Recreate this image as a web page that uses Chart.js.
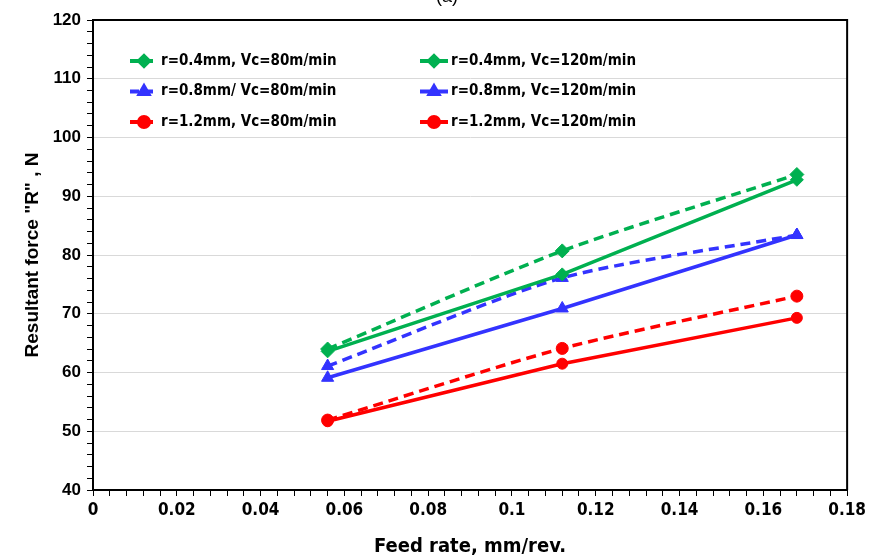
<!DOCTYPE html>
<html>
<head>
<meta charset="utf-8">
<script src="https://cdn.jsdelivr.net/npm/chart.js@4.4.1/dist/chart.umd.min.js"></script>
<style>
  html, body { margin: 0; padding: 0; background: #fff; }
  #chart { display: block; }
</style>
</head>
<body>
<canvas id="chart" width="870" height="558"></canvas>
<script>
// Feed rates (mm/rev) and resultant force R (N) for each nose radius / cutting speed
const feedRates = [0.056, 0.112, 0.168];
const seriesLabels = [
    'r=0.4mm, Vc=80m/min', 'r=0.4mm, Vc=120m/min',
    'r=0.8mm/ Vc=80m/min', 'r=0.8mm, Vc=120m/min',
    'r=1.2mm, Vc=80m/min', 'r=1.2mm, Vc=120m/min'
];
const r04v80 = [64.0, 80.7, 93.7];
const r04v120 = [63.6, 76.7, 92.8];
const r08v80 = [61.1, 76.1, 83.4];
const r08v120 = [59.1, 70.9, 83.4];
const r12v80 = [51.9, 64.1, 73.0];
const r12v120 = [51.7, 61.5, 69.3];

const GREEN = '#00b050';
const BLUE = '#3333ff';
const RED = '#ff0000';
const NARROW = '"Liberation Sans Narrow", "DejaVu Sans Condensed", "Roboto", sans-serif';
const ARIAL = '"Liberation Sans", Arial, sans-serif';

function toPoints(values) {
    return feedRates.map((x, i) => ({ x: x, y: values[i] }));
}

function makeSeries(label, values, color, style, dashed, radius) {
    return {
        label: label,
        data: toPoints(values),
        borderColor: color,
        backgroundColor: color,
        borderWidth: 3.5,
        borderDash: dashed ? [10, 6] : [],
        pointStyle: style,
        pointRadius: radius,
        pointBorderWidth: 1,
        pointBackgroundColor: color,
        pointBorderColor: color,
        tension: dashed ? 0.25 : 0,
        fill: false
    };
}

// Legend laid out as a 2-column grid inside the plot area
const gridLegend = {
    id: 'gridLegend',
    afterDraw(chart) {
        const ctx = chart.ctx;
        chart.data.datasets.forEach((ds, i) => {
            const col = i % 2;
            const row = Math.floor(i / 2);
            const x0 = col === 0 ? 130 : 420;
            const y = 61 + row * 30.5;
            ctx.save();
            ctx.strokeStyle = ds.borderColor;
            ctx.fillStyle = ds.borderColor;
            ctx.lineWidth = 4;
            ctx.setLineDash(ds.borderDash.length ? [9, 5] : []);
            ctx.beginPath();
            ctx.moveTo(x0, y);
            ctx.lineTo(x0 + 28, y);
            ctx.stroke();
            ctx.setLineDash([]);
            Chart.helpers.drawPoint(ctx, { pointStyle: ds.pointStyle, radius: 5, rotation: 0, borderWidth: 1 }, x0 + 14, y);
            ctx.fillStyle = '#000';
            ctx.font = 'bold 15px ' + NARROW;
            ctx.textBaseline = 'middle';
            ctx.textAlign = 'left';
            ctx.fillText(ds.label, x0 + 31, y);
            ctx.restore();
        });
    }
};

// Box around the plot area plus the panel tag at the top
const frame = {
    id: 'frame',
    afterDraw(chart) {
        const a = chart.chartArea;
        const ctx = chart.ctx;
        ctx.save();
        ctx.strokeStyle = '#000';
        ctx.lineWidth = 2;
        ctx.beginPath();
        ctx.moveTo(a.left, a.top);
        ctx.lineTo(a.right, a.top);
        ctx.lineTo(a.right, a.bottom);
        ctx.stroke();
        ctx.fillStyle = '#000';
        ctx.font = '18px ' + ARIAL;
        ctx.textAlign = 'center';
        ctx.textBaseline = 'alphabetic';
        ctx.fillText('(a)', 447, 2);
        ctx.restore();
    }
};

new Chart(document.getElementById('chart'), {
    type: 'line',
    data: {
        datasets: [
            makeSeries(seriesLabels[0], r04v80, GREEN, 'rectRot', true, 7),
            makeSeries(seriesLabels[1], r04v120, GREEN, 'rectRot', false, 6.5),
            makeSeries(seriesLabels[2], r08v80, BLUE, 'triangle', true, 7),
            makeSeries(seriesLabels[3], r08v120, BLUE, 'triangle', false, 7),
            makeSeries(seriesLabels[4], r12v80, RED, 'circle', true, 6),
            makeSeries(seriesLabels[5], r12v120, RED, 'circle', false, 5.5)
        ]
    },
    options: {
        responsive: false,
        animation: false,
        layout: { padding: { top: 20, right: 22, left: 0, bottom: 0 } },
        plugins: {
            legend: { display: false },
            tooltip: { enabled: false }
        },
        scales: {
            x: {
                type: 'linear',
                min: 0,
                max: 0.18,
                afterFit: s => { s.height = 68; },
                border: { color: '#000', width: 2 },
                grid: { drawOnChartArea: false, tickColor: '#000', tickLength: 6, tickWidth: 1 },
                ticks: {
                    stepSize: 0.004,
                    autoSkip: false,
                    maxRotation: 0,
                    color: '#000',
                    padding: 4,
                    font: { family: NARROW, size: 17, weight: 'bold' },
                    callback: v => {
                        const m = Math.round(v * 1000);
                        return m % 20 === 0 ? String(m / 1000) : '';
                    }
                },
                title: {
                    display: true,
                    text: 'Feed rate, mm/rev.',
                    color: '#000',
                    font: { family: NARROW, size: 20, weight: 'bold' },
                    padding: { top: 0, bottom: -1 }
                }
            },
            y: {
                min: 40,
                max: 120,
                afterFit: s => { s.width = 93; },
                border: { color: '#000', width: 2 },
                grid: {
                    color: c => (c.tick && c.tick.value % 10 === 0) ? '#d9d9d9' : 'rgba(0,0,0,0)',
                    tickColor: '#000',
                    tickLength: 6,
                    tickWidth: 1
                },
                ticks: {
                    stepSize: 2,
                    autoSkip: false,
                    color: '#000',
                    padding: 6,
                    font: { family: ARIAL, size: 17, weight: 'bold' },
                    callback: v => v % 10 === 0 ? String(v) : ''
                },
                title: {
                    display: true,
                    text: 'Resultant force "R" , N',
                    color: '#000',
                    font: { family: ARIAL, size: 19, weight: 'bold' },
                    padding: { top: 21, bottom: 0 }
                }
            }
        }
    },
    plugins: [gridLegend, frame]
});
</script>
</body>
</html>
